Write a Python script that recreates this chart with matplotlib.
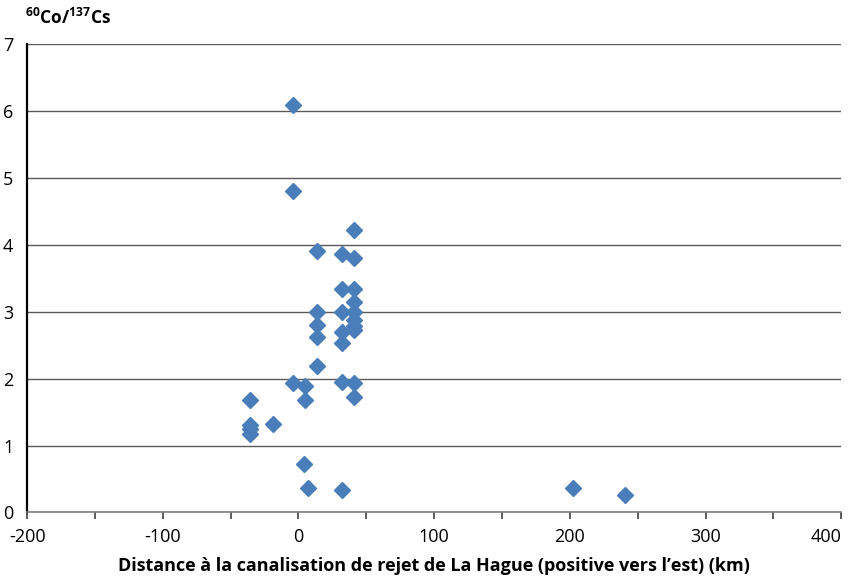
import numpy as np
import matplotlib
matplotlib.use('Agg')
import matplotlib.pyplot as plt

plt.rcParams['font.family'] = ['Open Sans', 'DejaVu Sans']
plt.rcParams['mathtext.fontset'] = 'custom'
plt.rcParams['mathtext.rm'] = 'Open Sans'
plt.rcParams['mathtext.bf'] = 'Open Sans:bold'

# distance (km) et rapport 60Co/137Cs
distance = [-4, -4, 41, 13.5, 32.4, 41,
            32.4, 41, 41, 13.5, 32.4, 41,
            41, 13.5, 41, 41, 32.4, 13.5, 32.4,
            13.5, -4, 4.9, 32.4, 41,
            4.9, 41, -36, -36, -36, -36, -18.9,
            4.2, 6.9, 32.4, 202, 241]
ratio = [6.09, 4.80, 4.22, 3.91, 3.87, 3.81,
         3.34, 3.34, 3.15, 2.99, 3.00, 3.00,
         2.88, 2.80, 2.78, 2.72, 2.70, 2.63, 2.54,
         2.19, 1.93, 1.89, 1.95, 1.94,
         1.68, 1.72, 1.68, 1.31, 1.25, 1.18, 1.32,
         0.72, 0.37, 0.33, 0.36, 0.26]

fig = plt.figure(figsize=(8.48, 5.81), dpi=100)
ax = fig.add_axes([0.032, 0.118, 0.960, 0.806])

ax.plot(distance, ratio, linestyle='none', marker='D', markersize=8.5,
        color='#4a7ebb', markeredgecolor='#4a7ebb', zorder=3)

ax.set_xlim(-200, 400)
ax.set_ylim(0, 7)
ax.set_xticks(np.arange(-200, 401, 50))
ax.set_xticklabels([str(v) if v % 100 == 0 else '' for v in range(-200, 401, 50)])
ax.set_yticks(range(0, 8))

ax.yaxis.grid(True, color='#595959', linewidth=1.0)
ax.set_axisbelow(True)

for s in ['top', 'right']:
    ax.spines[s].set_visible(False)
ax.spines['left'].set_color('black')
ax.spines['left'].set_linewidth(1.6)
ax.spines['bottom'].set_color('#7f7f7f')
ax.spines['bottom'].set_linewidth(1.2)

ax.tick_params(axis='x', direction='out', length=5, width=1.2, color='#404040',
               labelsize=13, pad=6)
ax.tick_params(axis='y', length=0, labelsize=13, pad=10)
# Excel serre le dernier libellé contre le bord
ax.get_xticklabels()[-1].set_horizontalalignment('right')

ax.set_xlabel("Distance à la canalisation de rejet de La Hague (positive vers l\u2019est) (km)",
              fontsize=13, fontweight='bold', labelpad=8)
fig.text(0.029, 0.952, r'$^{\mathbf{60}}$Co/$^{\mathbf{137}}$Cs', fontsize=12.5,
         fontweight='bold', ha='left', va='bottom')

fig.savefig('out.png', dpi=100)
